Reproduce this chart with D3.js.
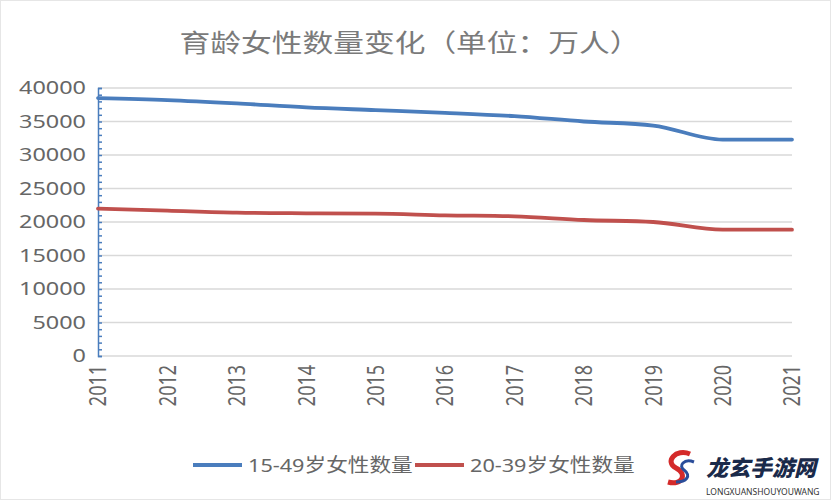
<!DOCTYPE html>
<html><head><meta charset="utf-8">
<script src="https://cdn.jsdelivr.net/npm/d3@7"></script>
<style>body{margin:0;background:#fff}svg{display:block}</style>
</head><body>
<script>
const years = ["2011","2012","2013","2014","2015","2016","2017","2018","2019","2020","2021"];
const series1549 = [38500,38200,37700,37100,36700,36300,35800,35000,34400,32300,32300];
const series2039 = [22000,21700,21400,21300,21250,21000,20850,20300,20000,18850,18850];
const seriesNames = ["15-49岁女性数量","20-39岁女性数量"];
const yTicks = [0,5000,10000,15000,20000,25000,30000,35000,40000];
const title = "育龄女性数量变化（单位：万人）";

const W=831,H=500;
const svg=d3.select("body").append("svg").attr("width",W).attr("height",H);
const font="'Noto Sans','Noto Sans CJK SC',sans-serif";
const cjk="'Noto Sans CJK SC','Noto Sans',sans-serif";
const blue="#4a7dbd", red="#c0504d";

svg.append("rect").attr("x",0.5).attr("y",0.5).attr("width",W-1).attr("height",H-1)
  .attr("fill","#fff").attr("stroke","#e6e6e6");

const x=d3.scalePoint().domain(years).range([98,792]);
const y=d3.scaleLinear().domain([0,40000]).range([356,88]);

svg.append("text").attr("transform","translate(410,52) scale(1.23,1)").attr("text-anchor","middle")
  .attr("font-family",cjk).attr("font-size",25).attr("fill","#7a7a7a").text(title);

// gridlines
svg.append("g").selectAll("line").data(yTicks).join("line")
  .attr("x1",98).attr("x2",792).attr("y1",d=>y(d)).attr("y2",d=>y(d))
  .attr("stroke","#d9d9d9").attr("stroke-width",1.3);

// y labels
svg.append("g").selectAll("text").data(yTicks).join("text")
  .attr("transform",d=>`translate(86,${y(d)}) scale(1.3,1)`).attr("dy","0.36em").attr("text-anchor","end")
  .attr("font-family",font).attr("font-size",18).attr("fill","#666").text(d=>d);

// y axis with minor ticks
const yAxis=d3.axisRight(y).ticks(40).tickSize(4).tickFormat("");
const ya=svg.append("g").attr("transform","translate(98,0)").call(yAxis);
ya.selectAll("path,line").attr("stroke",blue).attr("stroke-width",1.5);

// x labels
svg.append("g").selectAll("text").data(years).join("text")
  .attr("transform",d=>`translate(${x(d)},365) scale(1.3,1) rotate(-90)`)
  .attr("text-anchor","end").attr("dy","0.36em")
  .attr("font-family",font).attr("font-size",18).attr("fill","#666").text(d=>d);

const line=d3.line().x((d,i)=>x(years[i])).y(d=>y(d)).curve(d3.curveMonotoneX);
[[series1549,blue],[series2039,red]].forEach(([s,c])=>{
  svg.append("path").attr("d",line(s)).attr("fill","none").attr("stroke",c)
    .attr("stroke-width",3.8).attr("stroke-linecap","round");
});

// legend
const leg=[{n:seriesNames[0],c:blue,x:193},{n:seriesNames[1],c:red,x:415}];
leg.forEach(l=>{
  svg.append("line").attr("x1",l.x).attr("x2",l.x+49).attr("y1",465).attr("y2",465)
    .attr("stroke",l.c).attr("stroke-width",4);
  svg.append("text").attr("transform",`translate(${l.x+55},465) scale(1.14,1)`).attr("dy","0.36em")
    .attr("font-family",font).attr("font-size",19).attr("fill","#666").text(l.n);
});

// watermark
const wm=svg.append("g").attr("transform","translate(668,470)");
wm.append("path").attr("d","M22,-16 C8,-22 -4,-8 8,-2 C20,4 14,16 0,12")
  .attr("fill","none").attr("stroke","#d42a2a").attr("stroke-width",5);
wm.append("path").attr("d","M26,-8 C16,-12 10,-4 16,0 C24,6 18,12 8,12")
  .attr("fill","none").attr("stroke","#2a4d9a").attr("stroke-width",3);
wm.append("text").attr("x",38).attr("y",6).attr("font-family",cjk).attr("font-weight",900)
  .attr("font-style","italic").attr("font-size",22).attr("fill","#1a2a4a").text("龙玄手游网");
wm.append("text").attr("x",38).attr("y",25).attr("font-family",font)
  .attr("font-size",8.5).attr("fill","#333").text("LONGXUANSHOUYOUWANG");
</script>
</body></html>
